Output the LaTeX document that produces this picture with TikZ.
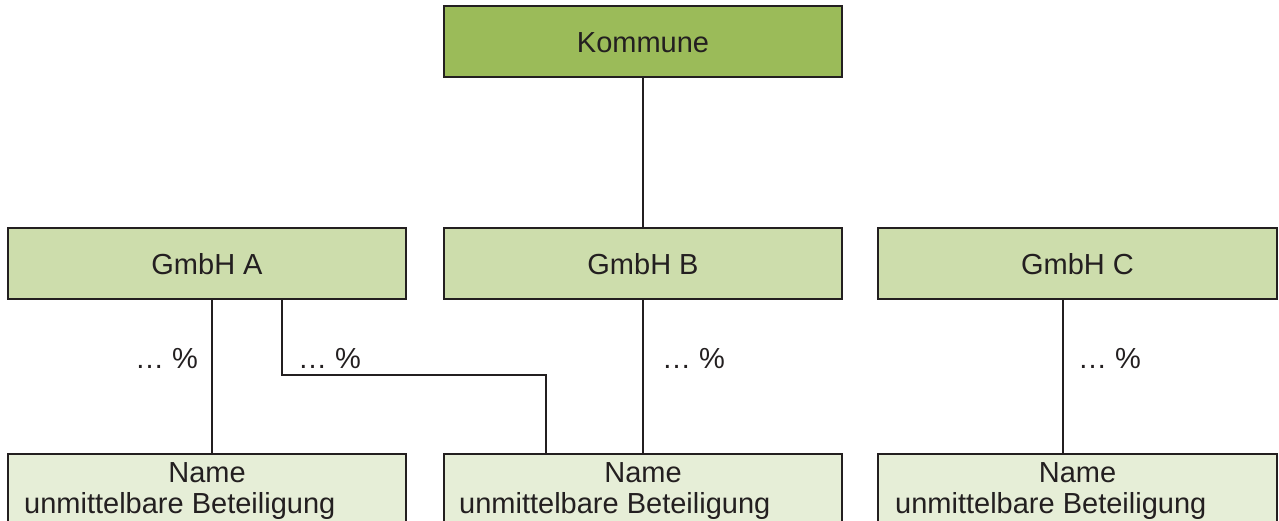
\documentclass[tikz,border=0pt]{standalone}
\usepackage{fontspec}
\setmainfont{Liberation Sans}
\definecolor{ink}{HTML}{231F20}
\definecolor{topfill}{HTML}{9BBB59}
\definecolor{midfill}{HTML}{CDDDAC}
\definecolor{lowfill}{HTML}{E6EED7}
\begin{document}
\begin{tikzpicture}[x=1pt,y=-1pt,
  box/.style={draw=ink,line width=2.4pt,minimum width=398pt,minimum height=71pt,inner sep=0pt,text=ink,
    font=\fontsize{29}{34}\selectfont},
  lowbox/.style={box,fill=lowfill,minimum height=100pt},
  conn/.style={draw=ink,line width=2pt},
  pct/.style={anchor=base west,inner sep=0pt,text=ink,font=\fontsize{29}{34}\selectfont},
  lbl/.style={anchor=base,inner sep=0pt,text=ink,font=\fontsize{29}{34}\selectfont}]
\useasboundingbox (0,0) rectangle (1279,521);
\clip (0,0) rectangle (1279,521);
\node[box,fill=topfill] (kom) at (643,41.5) {};
\node[lbl] (komt) at (643,53) {Kommune};
\node[box,fill=midfill] (ga) at (207,263.5) {};
\node[box,fill=midfill] (gb) at (643,263.5) {};
\node[box,fill=midfill,minimum width=399pt] (gc) at (1077.5,263.5) {};
\node[lbl] (gat) at (207,275) {GmbH A};
\node[lbl] (gbt) at (643,275) {GmbH B};
\node[lbl] (gct) at (1077.5,275) {GmbH C};
\node[lowbox,anchor=north] (na) at (207,453) {};
\node[lowbox,anchor=north] (nb) at (643,453) {};
\node[lowbox,anchor=north,minimum width=399pt] (nc) at (1077.5,453) {};
\node[lbl] (nat) at (207,482) {Name};
\node[lbl] (nbt) at (643,482) {Name};
\node[lbl] (nct) at (1077.5,482) {Name};
\node[pct] (nau) at (24,513) {unmittelbare Beteiligung};
\node[pct] (nbu) at (459,513) {unmittelbare Beteiligung};
\node[pct] (ncu) at (895,513) {unmittelbare Beteiligung};
% connectors
\draw[conn] (kom.south) -- (gb.north);
\coordinate (a1) at (212,299);
\coordinate (a2) at (212,453);
\draw[conn] (a1) -- (a2);
\coordinate (c1) at (282,299);
\coordinate (c2) at (282,375);
\coordinate (c3) at (546,375);
\coordinate (c4) at (546,453);
\draw[conn] (c1) -- (c2) -- (c3) -- (c4);
\draw[conn] (gb.south) -- (nb.north);
\coordinate (d1) at (1063,299);
\coordinate (d2) at (1063,453);
\draw[conn] (d1) -- (d2);
% percentages
\node[pct] (p1) at (135,368) {… \%};
\node[pct] (p2) at (298,368) {… \%};
\node[pct] (p3) at (662,368) {… \%};
\node[pct] (p4) at (1078,368) {… \%};
\end{tikzpicture}
\end{document}
